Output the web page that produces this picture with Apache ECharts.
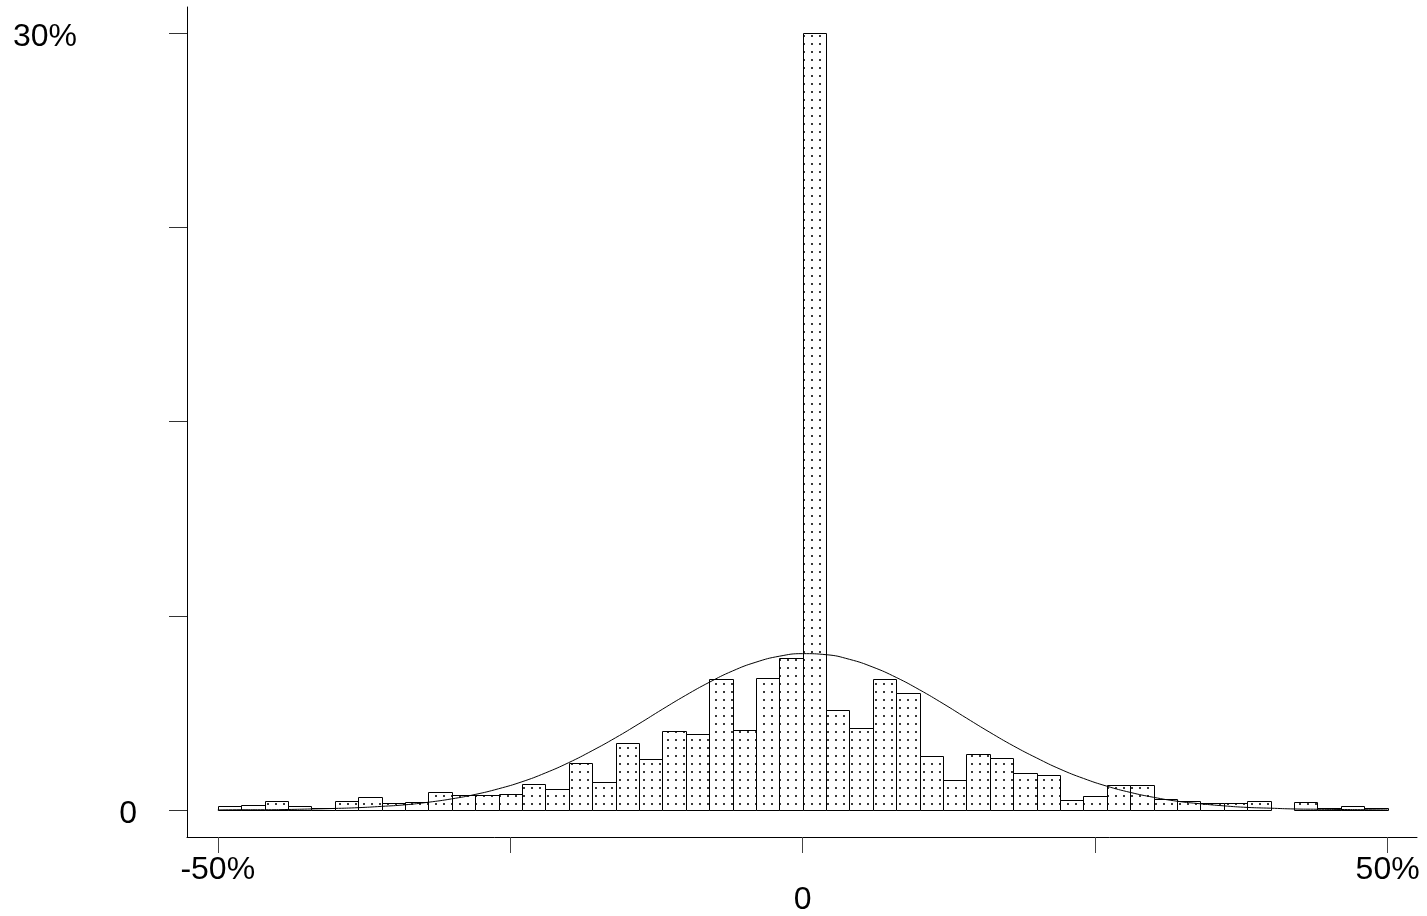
<!DOCTYPE html>
<html>
<head>
<meta charset="utf-8">
<script src="https://cdn.jsdelivr.net/npm/echarts@6/dist/echarts.min.js"></script>
<style>
html,body{margin:0;padding:0;background:#fff;}
#chart{width:1427px;height:916px;}
</style>
</head>
<body>
<div id="chart"></div>
<script>
// Histogram bins: left edge (%), width 2%
const binLeft = [-50,-48,-46,-44,-42,-40,-38,-36,-34,-32,-30,-28,-26,-24,-22,-20,-18,-16,-14,-12,-10,-8,-6,-4,-2,0,2,4,6,8,10,12,14,16,18,20,22,24,26,28,30,32,34,36,38,40,42,44,46,48];
const binWidth = 2;
// Percent of observations in each bin
const binPercent = [0.16,0.19,0.34,0.16,0.08,0.34,0.49,0.26,0.31,0.69,0.58,0.58,0.61,1.00,0.80,1.81,1.10,2.58,1.96,3.06,2.95,5.05,3.08,5.09,5.86,30.0,3.85,3.16,5.05,4.51,2.08,1.17,2.17,2.00,1.42,1.34,0.40,0.53,0.97,0.97,0.42,0.34,0.26,0.26,0.34,0,0.31,0.06,0.16,0.06];
// Normal-density overlay (x in %, height in %)
const curveX = [-50,-48,-46,-44,-42,-40,-38,-36,-34,-32,-30,-28,-26,-24,-22,-20,-18,-16,-14,-12,-10,-8,-6,-4,-2,0,2,4,6,8,10,12,14,16,18,20,22,24,26,28,30,32,34,36,38,40,42,44,46,48,50];
const curveY = [0.00,0.01,0.01,0.02,0.04,0.06,0.09,0.14,0.20,0.30,0.43,0.60,0.82,1.09,1.43,1.83,2.29,2.79,3.33,3.89,4.43,4.93,5.37,5.71,5.94,6.04,6.00,5.82,5.52,5.12,4.64,4.11,3.55,3.00,2.48,2.01,1.58,1.22,0.92,0.68,0.49,0.34,0.24,0.16,0.10,0.07,0.04,0.03,0.02,0.01,0.00];
// Tick positions and labels
const xTicks = [-50,-25,0,25,50];
const xLabels = [-50,0,50];
const yTicks = [0,7.5,15,22.5,30];
const yLabels = [0,30];

// dotted fill pattern
const pat = document.createElement('canvas');
pat.width = 8; pat.height = 8;
const pctx = pat.getContext('2d');
pctx.fillStyle = '#fff';
pctx.fillRect(0,0,8,8);
pctx.fillStyle = '#3a3a3a';
pctx.fillRect(3,3,2,2);
const dotFill = {image: pat, repeat: 'repeat'};

const barData = binLeft.map((l,i)=>[l, l+binWidth, binPercent[i]]);
const lineData = curveX.map((x,i)=>[x, curveY[i]]);

const FONT = "'Liberation Sans', Arial, sans-serif";
const FS = 32;
const chart = echarts.init(document.getElementById('chart'), null, {renderer:'canvas'});
chart.setOption({
  animation: false,
  backgroundColor: '#fff',
  grid: {left: 187, right: 10, top: 7, bottom: 79, containLabel: false, outerBoundsMode: 'none'},
  xAxis: {
    type: 'value', min: -52.63, max: 52.51,
    axisLine: {show: true, onZero: false, lineStyle: {color: '#000', width: 1}},
    axisTick: {show: true, length: 16, customValues: xTicks, lineStyle: {color: '#444', width: 1}},
    axisLabel: {
      customValues: xLabels, margin: 17, fontSize: FS, color: '#000', fontFamily: FONT,
      formatter: v => v === 0 ? '{z|0}' : v + '%',
      rich: {z: {fontSize: FS, color: '#000', fontFamily: FONT, padding: [30,0,0,0]}}
    },
    splitLine: {show: false}
  },
  yAxis: {
    type: 'value', min: -1.043, max: 31.02,
    axisLine: {show: true, onZero: false, lineStyle: {color: '#000', width: 1}},
    axisTick: {show: true, length: 18, customValues: yTicks, lineStyle: {color: '#333', width: 1}},
    axisLabel: {
      customValues: yLabels, margin: 50, fontSize: FS, color: '#000', fontFamily: FONT, align: 'right',
      formatter: v => v === 30 ? '{p|30%}' : '{q|0}',
      rich: {
        p: {fontSize: FS, color: '#000', fontFamily: FONT, padding: [8,60,0,0]},
        q: {fontSize: FS, color: '#000', fontFamily: FONT, padding: [9,0,0,0]}
      }
    },
    splitLine: {show: false}
  },
  series: [
    {
      type: 'custom',
      data: barData,
      encode: {x: [0,1], y: 2},
      z: 2,
      renderItem: function(params, api) {
        const v = api.value(2);
        if (!v) return null;
        const p0 = api.coord([api.value(0), v]);
        const p1 = api.coord([api.value(1), 0]);
        const x0 = Math.round(p0[0]) + 0.5, x1 = Math.round(p1[0]) + 0.5;
        const y0 = Math.round(p0[1]) + 0.5, y1 = Math.round(p1[1]) + 0.5;
        return {
          type: 'rect',
          shape: {x: x0, y: y0, width: x1 - x0, height: y1 - y0},
          style: {fill: dotFill, stroke: '#000', lineWidth: 1}
        };
      }
    },
    {
      type: 'line',
      data: lineData,
      showSymbol: false,
      smooth: true,
      z: 3,
      lineStyle: {color: '#000', width: 1}
    }
  ]
});
</script>
</body>
</html>
